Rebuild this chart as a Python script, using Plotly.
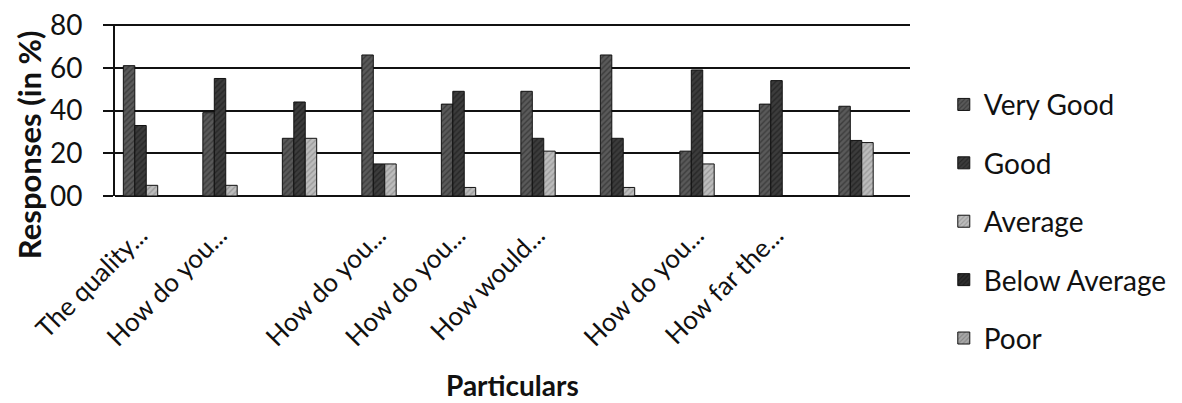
import plotly.graph_objects as go

categories = ["Q1", "Q2", "Q3", "Q4", "Q5", "Q6", "Q7", "Q8", "Q9", "Q10"]
tick_labels = ["The quality...", "How do you...", "", "How do you...", "How do you...",
               "How would...", "", "How do you...", "How far the...", ""]
series_names = ["Very Good", "Good", "Average", "Below Average", "Poor"]
very_good = [61, 39, 27, 66, 43, 49, 66, 21, 43, 42]
good = [33, 55, 44, 15, 49, 27, 27, 59, 54, 26]
average = [5, 5, 27, 15, 4, 21, 4, 15, 0, 25]
below_average = [0, 0, 0, 0, 0, 0, 0, 0, 0, 0]
poor = [0, 0, 0, 0, 0, 0, 0, 0, 0, 0]
y_ticks = [0, 20, 40, 60, 80]
y_tick_text = ["00", "20", "40", "60", "80"]

values = [very_good, good, average, below_average, poor]
fills = ["#5a5a5a", "#3c3c3c", "#bdbdbd", "#2e2e2e", "#a8a8a8"]
fgs = ["#1e1e1e", "#111111", "#7a7a7a", "#0a0a0a", "#666666"]

FONT = "Lato, 'Open Sans', sans-serif"
INK = "#111111"

fig = go.Figure()
for i, (name, vals) in enumerate(zip(series_names, values)):
    fig.add_trace(go.Bar(
        x=categories, y=vals, name=name, legendgroup=name,
        marker=dict(color=fills[i], line=dict(color=INK, width=1),
                    pattern=dict(shape="/", fgcolor=fgs[i], size=4, solidity=0.35)),
    ))

fig.update_layout(
    width=1174, height=395,
    margin=dict(l=107, r=272, t=16, b=207, autoexpand=False),
    paper_bgcolor="white", plot_bgcolor="white",
    barmode="group", bargap=0.28, bargroupgap=0,
    font=dict(family=FONT, color=INK),
    showlegend=True,
    legend=dict(x=1.0425, xanchor="left", y=0.676, yanchor="top",
                font=dict(size=28, family=FONT, color=INK),
                tracegroupgap=19, traceorder="grouped",
                maxheight=400,
                bgcolor="rgba(0,0,0,0)"),
    xaxis=dict(type="category", range=[-0.465, 9.535], automargin=False,
               tickmode="array", tickvals=categories, ticktext=tick_labels,
               tickangle=-45, tickfont=dict(size=26, family=FONT, color=INK),
               ticklabelshift=-12, ticklabelstandoff=18,
               ticklabeloverflow="allow",
               showline=False, showgrid=False, ticks=""),
    yaxis=dict(range=[0, 80.5], automargin=False,
               tickmode="array", tickvals=y_ticks, ticktext=y_tick_text,
               tickfont=dict(size=28, family=FONT, color=INK), showgrid=True, gridcolor=INK,
               gridwidth=2, showline=True, linecolor=INK, linewidth=2,
               ticks="outside", ticklen=10, tickwidth=2, tickcolor=INK,
               ticklabelstandoff=15, ticklabeloverflow="allow",
               zeroline=True, zerolinecolor=INK, zerolinewidth=2),
    annotations=[
        dict(text="<b>Responses (in %)</b>", xref="paper", yref="paper",
             x=-0.108, y=(188 - 137) / 172, xanchor="center", yanchor="middle",
             textangle=-90, showarrow=False, font=dict(size=31, family=FONT, color=INK)),
        dict(text="<b>Particulars</b>", xref="paper", yref="paper",
             x=0.5, y=(188 - 377) / 172, xanchor="center", yanchor="middle",
             showarrow=False, font=dict(size=28, family=FONT, color=INK)),
    ],
)

fig.write_html("out.html")
